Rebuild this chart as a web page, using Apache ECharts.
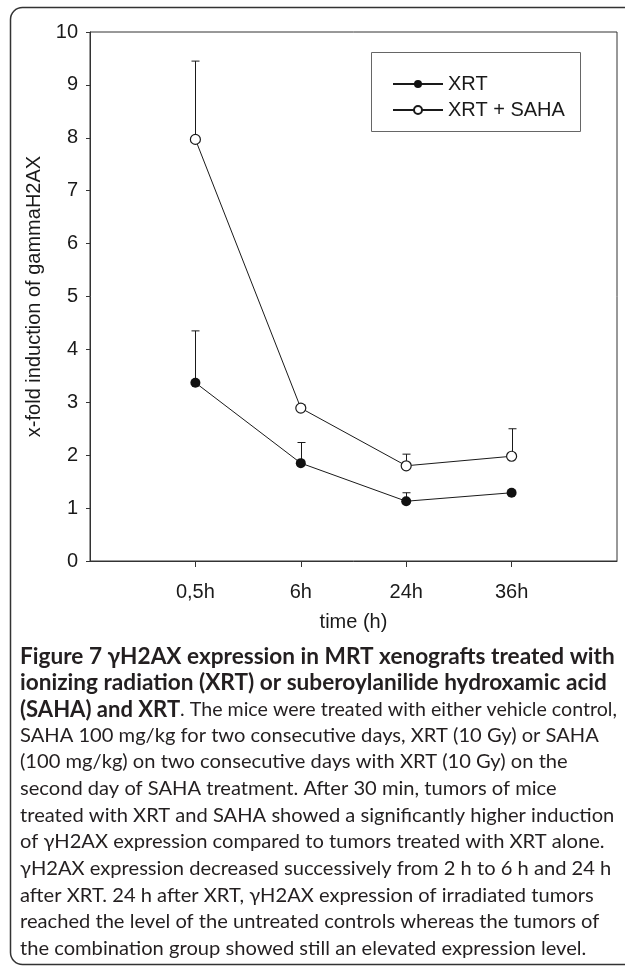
<!DOCTYPE html>
<html>
<head>
<meta charset="utf-8">
<script src="https://cdn.jsdelivr.net/npm/echarts@6/dist/echarts.min.js"></script>
<style>
  html, body { margin: 0; padding: 0; background: #fff; }
  #chart { width: 625px; height: 970px; }
</style>
</head>
<body>
<div id="chart"></div>
<script>
// time points on the x axis (drawn at positions 1..4 of a 0..5 axis)
const timePoints = ['0,5h', '6h', '24h', '36h']

// means and upper error bar ends
const xrt = [3.37, 1.85, 1.13, 1.29]
const xrtErrTop = [4.35, 2.24, 1.29, null]
const xrtSaha = [7.97, 2.89, 1.80, 1.98]
const xrtSahaErrTop = [9.45, 2.95, 2.02, 2.50]

const yMin = 0
const yMax = 10
const yStep = 1

// caption lines: [bold part, regular part]
const captionLines = [
  ['Figure 7 γH2AX expression in MRT xenografts treated with', ''],
  ['ionizing radiation (XRT) or suberoylanilide hydroxamic acid', ''],
  ['(SAHA) and XRT', '. The mice were treated with either vehicle control,'],
  ['', 'SAHA 100 mg/kg for two consecutive days, XRT (10 Gy) or SAHA'],
  ['', '(100 mg/kg) on two consecutive days with XRT (10 Gy) on the'],
  ['', 'second day of SAHA treatment. After 30 min, tumors of mice'],
  ['', 'treated with XRT and SAHA showed a significantly higher induction'],
  ['', 'of γH2AX expression compared to tumors treated with XRT alone.'],
  ['', 'γH2AX expression decreased successively from 2 h to 6 h and 24 h'],
  ['', 'after XRT. 24 h after XRT, γH2AX expression of irradiated tumors'],
  ['', 'reached the level of the untreated controls whereas the tumors of'],
  ['', 'the combination group showed still an elevated expression level.']
]

const axisFont = 'Liberation Sans'
const capFont = 'Lato'
const ink = '#1a1a1a'

// caption font sizes: full lines span the 595px text block
const measure = document.createElement('canvas').getContext('2d')
function textW(t, weight, size) {
  measure.font = weight + ' ' + size + 'px ' + capFont
  return measure.measureText(t).width
}
const boldSize = 100 * 595 / textW(captionLines[0][0], 'bold', 100)
const regSize = 100 * 595 / textW(captionLines[6][1], 'normal', 100)

function points(vals) {
  return vals.map((v, i) => [i + 1, v])
}
function errPoints(vals, tops) {
  return vals.map((v, i) => [i + 1, v, tops[i]]).filter(d => d[2] != null)
}

function renderErr(params, api) {
  const base = api.coord([api.value(0), api.value(1)])
  const top = api.coord([api.value(0), api.value(2)])
  const x = Math.round(base[0]) + 0.5
  return {
    type: 'group',
    children: [
      { type: 'line', shape: { x1: x, y1: base[1], x2: x, y2: top[1] }, style: { stroke: ink, lineWidth: 1 } },
      { type: 'line', shape: { x1: x - 4, y1: top[1], x2: x + 4, y2: top[1] }, style: { stroke: ink, lineWidth: 1 } }
    ]
  }
}

const chart = echarts.init(document.getElementById('chart'), null, { renderer: 'canvas' })

const caption = captionLines.map((l, i) => {
  const w = textW(l[0], 'bold', boldSize) + textW(l[1], 'normal', regSize)
  const f = Math.min(1, 597 / w)
  return {
    type: 'text',
    left: 20,
    top: 645 + i * 26.7,
    style: {
      text: (l[0] ? '{b|' + l[0] + '}' : '') + l[1],
      fontFamily: capFont,
      fontSize: regSize * f,
      fill: '#231f20',
      rich: {
        b: { fontFamily: capFont, fontWeight: 'bold', fontSize: boldSize * f, fill: '#231f20' }
      }
    }
  }
})

chart.setOption({
  animation: false,
  backgroundColor: '#fff',
  grid: {
    left: 90,
    top: 32,
    right: 8,
    bottom: 409,
    show: true,
    borderColor: '#333',
    borderWidth: 1
  },
  legend: {
    data: ['XRT', 'XRT + SAHA'],
    orient: 'vertical',
    left: 387,
    top: 69,
    itemWidth: 50,
    itemHeight: 10,
    itemGap: 6,
    textStyle: { fontFamily: axisFont, fontSize: 20, lineHeight: 20, color: ink }
  },
  xAxis: {
    type: 'value',
    min: 0,
    max: 5,
    name: 'time (h)',
    nameLocation: 'middle',
    nameGap: 51,
    nameTextStyle: { fontFamily: axisFont, fontSize: 20, color: ink },
    splitLine: { show: false },
    axisLine: { lineStyle: { color: '#333', width: 1 } },
    axisTick: { customValues: [1, 2, 3, 4], length: 6, lineStyle: { color: '#333' } },
    axisLabel: {
      customValues: [1, 2, 3, 4],
      formatter: v => timePoints[v - 1],
      margin: 21,
      fontFamily: axisFont,
      fontSize: 20,
      color: ink
    }
  },
  yAxis: {
    type: 'value',
    min: yMin,
    max: yMax,
    interval: yStep,
    name: 'x-fold induction of gammaH2AX',
    nameLocation: 'middle',
    nameGap: 42,
    nameRotate: 90,
    nameTextStyle: { fontFamily: axisFont, fontSize: 20, color: ink },
    splitLine: { show: false },
    axisLine: { show: true, lineStyle: { color: '#333', width: 1 } },
    axisTick: { show: true, length: 4, lineStyle: { color: '#333' } },
    axisLabel: { margin: 12, fontFamily: axisFont, fontSize: 20, color: ink }
  },
  series: [
    {
      type: 'custom',
      name: 'xrtErr',
      data: errPoints(xrt, xrtErrTop),
      renderItem: renderErr,
      silent: true,
      z: 1
    },
    {
      type: 'custom',
      name: 'xrtSahaErr',
      data: errPoints(xrtSaha, xrtSahaErrTop),
      renderItem: renderErr,
      silent: true,
      z: 1
    },
    {
      type: 'line',
      name: 'XRT',
      data: points(xrt),
      symbol: 'circle',
      symbolSize: 10,
      itemStyle: { color: '#111' },
      lineStyle: { color: ink, width: 1 },
      z: 3
    },
    {
      type: 'line',
      name: 'XRT + SAHA',
      data: points(xrtSaha),
      symbol: 'circle',
      symbolSize: 10,
      itemStyle: { color: '#fff', borderColor: ink, borderWidth: 1.2 },
      lineStyle: { color: ink, width: 1 },
      z: 3
    }
  ],
  graphic: [
    {
      type: 'rect',
      shape: { x: 10.5, y: 7.5, width: 640, height: 957, r: 12 },
      style: { fill: null, stroke: '#333', lineWidth: 1.5 },
      silent: true
    },
    {
      type: 'rect',
      shape: { x: 371.5, y: 52.5, width: 209, height: 79 },
      style: { fill: null, stroke: '#666', lineWidth: 1 },
      silent: true
    }
  ].concat(caption)
})
</script>
</body>
</html>
